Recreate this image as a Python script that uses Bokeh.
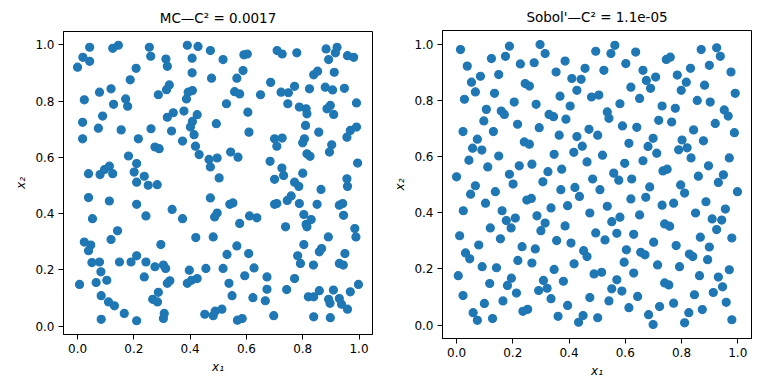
from bokeh.plotting import figure
from bokeh.layouts import row, column
from bokeh.models import FixedTicker, PrintfTickFormatter, Range1d
from bokeh.embed import file_html
from bokeh.resources import INLINE

# ---------------- data ----------------
titles = ["MC\u2014C\u00b2 = 0.0017", "Sobol'\u2014C\u00b2 = 1.1e-05"]
x_label = "x\u2081"
y_label = "x\u2082"
tick_values = [0.0, 0.2, 0.4, 0.6, 0.8, 1.0]

mc_x1 = [
    0.043, 0.125, 0.145, 0.019, 0.043, 0.000, 0.255, 0.260, 0.314, 0.319,
    0.208, 0.187, 0.390, 0.428, 0.472, 0.407, 0.407, 0.476, 0.078, 0.119,
    0.024, 0.171, 0.128, 0.178, 0.287, 0.316, 0.326, 0.393, 0.408, 0.387,
    0.089, 0.018, 0.074, 0.155, 0.018, 0.216, 0.261, 0.319, 0.340, 0.378,
    0.425, 0.408, 0.401, 0.334, 0.414, 0.373, 0.419, 0.493, 0.275, 0.290,
    0.181, 0.432, 0.467, 0.496, 0.472, 0.210, 0.039, 0.080, 0.096, 0.113,
    0.125, 0.201, 0.237, 0.210, 0.251, 0.283, 0.503,
    0.517, 0.591, 0.603, 0.709, 0.727, 0.779, 0.883, 0.922, 0.916, 0.892,
    0.959, 0.981, 0.588, 0.566, 0.912, 0.839, 0.853, 0.686, 0.771, 0.723,
    0.749, 0.824, 0.880, 0.906, 0.948, 0.558, 0.576, 0.650, 0.529, 0.747,
    0.788, 0.812, 0.815, 0.886, 0.898, 0.910, 0.991, 0.605, 0.609, 0.810,
    0.857, 0.969, 0.991, 0.957, 0.700, 0.727, 0.708, 0.806, 0.800, 0.903,
    0.895, 0.815, 0.826, 0.544, 0.570, 0.995, 0.684, 0.726, 0.732, 0.700,
    0.800, 0.771, 0.786, 0.957, 0.959, 0.865,
    0.039, 0.113, 0.210, 0.053, 0.243, 0.336, 0.373, 0.472, 0.496, 0.487,
    0.142, 0.119, 0.024, 0.047, 0.039, 0.296, 0.420, 0.482, 0.051, 0.078,
    0.149, 0.190, 0.210, 0.243, 0.275, 0.305, 0.313, 0.083, 0.237, 0.397,
    0.456, 0.007, 0.066, 0.104, 0.328, 0.319, 0.390, 0.405, 0.425, 0.084,
    0.287, 0.267, 0.284, 0.110, 0.131, 0.166, 0.084, 0.210, 0.308, 0.305,
    0.452, 0.482, 0.489,
    0.541, 0.552, 0.611, 0.637, 0.576, 0.700, 0.708, 0.745, 0.759, 0.788,
    0.804, 0.830, 0.812, 0.815, 0.739, 0.851, 0.930, 0.942, 0.945, 0.985,
    0.989, 0.891, 0.804, 0.782, 0.792, 0.838, 0.859, 0.867, 0.950, 0.930,
    0.944, 0.566, 0.531, 0.608, 0.517, 0.594, 0.627, 0.538, 0.549, 0.673,
    0.673, 0.771, 0.743, 0.623, 0.667, 0.820, 0.839, 0.859, 0.909, 0.892,
    0.897, 0.930, 0.938, 0.959, 0.969, 0.998, 0.513, 0.568, 0.585, 0.697,
    0.839, 0.898,
]
mc_x2 = [
    0.992, 0.988, 0.999, 0.956, 0.942, 0.921, 0.992, 0.960, 0.950, 0.924,
    0.917, 0.876, 0.999, 0.995, 0.980, 0.953, 0.901, 0.882, 0.832, 0.844,
    0.805, 0.808, 0.789, 0.782, 0.823, 0.841, 0.858, 0.832, 0.838, 0.808,
    0.747, 0.725, 0.704, 0.698, 0.666, 0.666, 0.702, 0.743, 0.759, 0.765,
    0.752, 0.728, 0.708, 0.694, 0.681, 0.658, 0.640, 0.720, 0.637, 0.631,
    0.605, 0.610, 0.593, 0.598, 0.566, 0.578, 0.542, 0.539, 0.557, 0.569,
    0.542, 0.548, 0.533, 0.512, 0.501, 0.503, 0.527,
    0.948, 0.965, 0.968, 0.980, 0.968, 0.972, 0.986, 0.992, 0.972, 0.948,
    0.962, 0.956, 0.909, 0.882, 0.903, 0.894, 0.907, 0.867, 0.853, 0.832,
    0.830, 0.844, 0.850, 0.840, 0.846, 0.834, 0.826, 0.823, 0.791, 0.791,
    0.779, 0.773, 0.755, 0.773, 0.785, 0.753, 0.794, 0.761, 0.690, 0.714,
    0.690, 0.696, 0.708, 0.672, 0.666, 0.669, 0.640, 0.666, 0.652, 0.645,
    0.619, 0.613, 0.604, 0.619, 0.601, 0.580, 0.586, 0.562, 0.536, 0.522,
    0.544, 0.512, 0.497, 0.524, 0.497, 0.486,
    0.457, 0.445, 0.433, 0.382, 0.392, 0.415, 0.382, 0.456, 0.402, 0.388,
    0.339, 0.308, 0.299, 0.288, 0.268, 0.290, 0.315, 0.317, 0.226, 0.228,
    0.228, 0.228, 0.250, 0.228, 0.211, 0.217, 0.205, 0.193, 0.175, 0.199,
    0.205, 0.148, 0.155, 0.163, 0.161, 0.152, 0.152, 0.163, 0.169, 0.108,
    0.120, 0.095, 0.086, 0.086, 0.072, 0.045, 0.024, 0.019, 0.045, 0.027,
    0.042, 0.037, 0.053,
    0.433, 0.438, 0.392, 0.385, 0.365, 0.433, 0.436, 0.447, 0.463, 0.436,
    0.397, 0.379, 0.362, 0.353, 0.353, 0.433, 0.430, 0.436, 0.394, 0.347,
    0.317, 0.317, 0.290, 0.250, 0.223, 0.217, 0.264, 0.276, 0.258, 0.223,
    0.217, 0.285, 0.255, 0.258, 0.205, 0.179, 0.207, 0.152, 0.108, 0.175,
    0.131, 0.169, 0.130, 0.101, 0.090, 0.104, 0.104, 0.126, 0.128, 0.095,
    0.081, 0.098, 0.078, 0.060, 0.122, 0.148, 0.060, 0.021, 0.027, 0.037,
    0.033, 0.030,
]

sobol_x1 = [
    0.014, 0.188, 0.297, 0.315, 0.124, 0.174, 0.038, 0.227, 0.276, 0.386,
    0.495, 0.457, 0.085, 0.053, 0.150, 0.354, 0.410, 0.443, 0.244, 0.259,
    0.067, 0.135, 0.028, 0.368, 0.428, 0.480, 0.506, 0.205, 0.283, 0.404,
    0.106, 0.159, 0.170, 0.329, 0.345, 0.389, 0.097, 0.217, 0.294, 0.023,
    0.131, 0.365, 0.428, 0.471, 0.502, 0.074, 0.241, 0.259, 0.057, 0.090,
    0.447, 0.417, 0.347, 0.044, 0.150, 0.464, 0.111, 0.223, 0.268, 0.374,
    0.000, 0.188, 0.325, 0.484, 0.067, 0.201, 0.307, 0.421,
    0.563, 0.549, 0.637, 0.602, 0.524, 0.663, 0.675, 0.708, 0.690, 0.620,
    0.651, 0.581, 0.536, 0.542, 0.746, 0.760, 0.870, 0.925, 0.938, 0.832,
    0.899, 0.785, 0.817, 0.799, 0.882, 0.976, 0.991, 0.856, 0.902, 0.731,
    0.778, 0.952, 0.966, 0.719, 0.765, 0.920, 0.590, 0.641, 0.843, 0.988,
    0.699, 0.613, 0.681, 0.802, 0.878, 0.790, 0.820, 0.519, 0.712, 0.834,
    0.970, 0.663, 0.598, 0.734, 0.749, 0.896, 0.559, 0.577, 0.623, 0.860,
    0.949, 0.931, 0.687, 0.797,
    0.050, 0.138, 0.371, 0.437, 0.103, 0.250, 0.266, 0.024, 0.162, 0.177,
    0.209, 0.194, 0.120, 0.286, 0.315, 0.300, 0.336, 0.395, 0.474, 0.386,
    0.011, 0.156, 0.079, 0.233, 0.280, 0.356, 0.407, 0.495, 0.032, 0.047,
    0.218, 0.268, 0.452, 0.464, 0.418, 0.091, 0.142, 0.347, 0.006, 0.195,
    0.181, 0.118, 0.309, 0.322, 0.292, 0.380, 0.489, 0.213, 0.023, 0.165,
    0.099, 0.336, 0.474, 0.395, 0.236, 0.253, 0.059, 0.074, 0.128, 0.361,
    0.450, 0.434, 0.502,
    0.510, 0.811, 0.999, 0.673, 0.620, 0.536, 0.731, 0.772, 0.887, 0.956,
    0.850, 0.651, 0.581, 0.552, 0.740, 0.758, 0.909, 0.943, 0.925, 0.528,
    0.570, 0.630, 0.701, 0.781, 0.867, 0.979, 0.604, 0.655, 0.670, 0.828,
    0.840, 0.899, 0.893, 0.596, 0.715, 0.793, 0.516, 0.630, 0.864, 0.931,
    0.970, 0.570, 0.552, 0.588, 0.740, 0.755, 0.846, 0.913, 0.946, 0.644,
    0.542, 0.772, 0.959, 0.613, 0.722, 0.874, 0.826, 0.683, 0.699, 0.811,
    0.979,
]
sobol_x2 = [
    0.981, 0.993, 0.999, 0.967, 0.949, 0.957, 0.922, 0.930, 0.934, 0.940,
    0.975, 0.914, 0.886, 0.865, 0.892, 0.901, 0.878, 0.875, 0.860, 0.851,
    0.830, 0.825, 0.804, 0.815, 0.836, 0.812, 0.819, 0.794, 0.786, 0.780,
    0.768, 0.762, 0.750, 0.750, 0.742, 0.733, 0.727, 0.715, 0.703, 0.689,
    0.689, 0.676, 0.671, 0.697, 0.676, 0.662, 0.652, 0.644, 0.630, 0.623,
    0.637, 0.615, 0.608, 0.587, 0.602, 0.581, 0.563, 0.567, 0.573, 0.555,
    0.528, 0.537, 0.546, 0.520, 0.496, 0.502, 0.510, 0.490,
    0.996, 0.967, 0.972, 0.931, 0.907, 0.907, 0.871, 0.883, 0.843, 0.847,
    0.807, 0.788, 0.759, 0.736, 0.946, 0.954, 0.981, 0.987, 0.957, 0.914,
    0.925, 0.890, 0.865, 0.836, 0.854, 0.901, 0.825, 0.800, 0.794, 0.780,
    0.772, 0.766, 0.744, 0.729, 0.723, 0.718, 0.709, 0.704, 0.695, 0.685,
    0.665, 0.647, 0.636, 0.659, 0.656, 0.624, 0.631, 0.605, 0.612, 0.595,
    0.595, 0.585, 0.576, 0.549, 0.555, 0.567, 0.541, 0.516, 0.520, 0.530,
    0.535, 0.508, 0.492, 0.499,
    0.466, 0.475, 0.482, 0.458, 0.434, 0.445, 0.451, 0.407, 0.407, 0.372,
    0.381, 0.346, 0.346, 0.389, 0.363, 0.336, 0.417, 0.425, 0.399, 0.353,
    0.318, 0.307, 0.285, 0.279, 0.271, 0.301, 0.292, 0.328, 0.257, 0.236,
    0.230, 0.221, 0.265, 0.244, 0.218, 0.208, 0.204, 0.198, 0.176, 0.167,
    0.141, 0.148, 0.159, 0.131, 0.123, 0.156, 0.182, 0.114, 0.105, 0.086,
    0.077, 0.094, 0.098, 0.070, 0.049, 0.056, 0.044, 0.017, 0.023, 0.031,
    0.034, 0.010, 0.026,
    0.482, 0.470, 0.475, 0.455, 0.449, 0.423, 0.427, 0.434, 0.439, 0.413,
    0.399, 0.392, 0.384, 0.368, 0.360, 0.352, 0.378, 0.374, 0.340, 0.303,
    0.327, 0.323, 0.295, 0.283, 0.313, 0.310, 0.268, 0.259, 0.250, 0.253,
    0.244, 0.278, 0.233, 0.224, 0.214, 0.208, 0.188, 0.185, 0.176, 0.171,
    0.197, 0.161, 0.129, 0.121, 0.150, 0.143, 0.108, 0.116, 0.136, 0.102,
    0.086, 0.078, 0.081, 0.062, 0.066, 0.055, 0.044, 0.037, 0.002, 0.008,
    0.019,
]

# ---------------- styling ----------------
FONT = "DejaVu Sans"
BLUE = "#1f77b4"


def padded(vals, frac=0.05):
    lo, hi = min(vals), max(vals)
    span = hi - lo
    return Range1d(lo - frac * span, hi + frac * span)


def make_panel(xs, ys, title, fw, fh, bl, br, bt, bb, standoff):
    p = figure(
        frame_width=fw, frame_height=fh,
        x_range=padded(xs), y_range=padded(ys),
        output_backend="svg", toolbar_location=None,
        min_border_left=bl, min_border_right=br,
        min_border_top=bt, min_border_bottom=bb,
        title=title,
    )
    p.title.text_font = FONT
    p.title.text_font_size = "13.5px"
    p.title.text_font_style = "normal"
    p.title.align = "center"
    p.title.vertical_align = "bottom"
    p.title.standoff = standoff
    p.title.text_color = "black"

    p.scatter(xs, ys, size=8, fill_color=BLUE, line_color=BLUE,
              line_width=1.2, fill_alpha=1.0)

    p.xgrid.visible = False
    p.ygrid.visible = False
    p.outline_line_color = "black"
    p.outline_line_width = 1
    p.outline_line_alpha = 1.0
    p.background_fill_color = "white"
    p.border_fill_color = "white"

    for ax, lab in ((p.xaxis[0], x_label), (p.yaxis[0], y_label)):
        ax.ticker = FixedTicker(ticks=tick_values)
        ax.formatter = PrintfTickFormatter(format="%.1f")
        ax.axis_label = lab
        ax.axis_label_text_font = FONT
        ax.axis_label_text_font_size = "12px"
        ax.axis_label_text_font_style = "italic"
        ax.axis_label_standoff = 4
        ax.major_label_text_font = FONT
        ax.major_label_text_font_size = "12px"
        ax.major_label_standoff = 4
        ax.major_tick_out = 5
        ax.major_tick_in = 0
        ax.minor_tick_line_color = None
        ax.axis_line_color = "black"
        ax.major_tick_line_color = "black"
        ax.major_label_text_color = "black"
        ax.axis_label_text_color = "black"
    return p


p1 = make_panel(mc_x1, mc_x2, titles[0], 309, 303, 63, 18, 31, 46, 12)
p2 = make_panel(sobol_x1, sobol_x2, titles[1], 309, 308, 51, 18, 28, 44, 12)

# each figure in its own column so the two frames are not forced to align
layout = row(column(p1), column(p2))

with open("out.html", "w") as f:
    f.write(file_html(layout, INLINE))
